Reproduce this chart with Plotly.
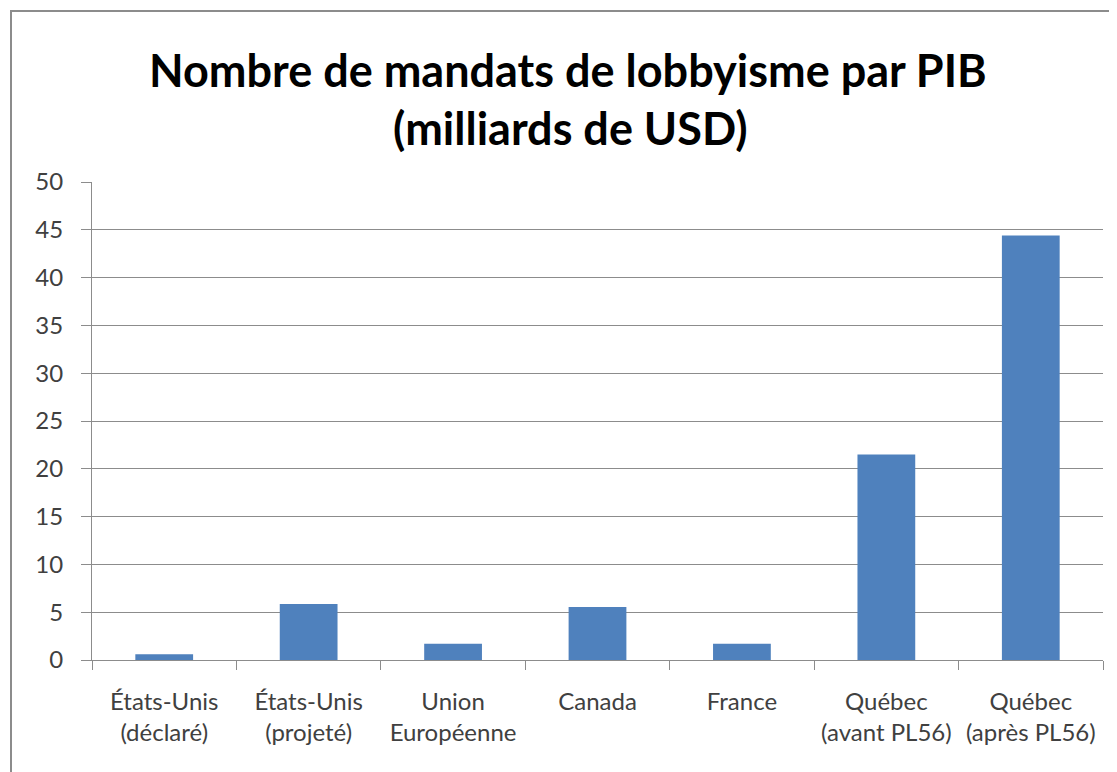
import plotly.graph_objects as go

categories = ["États-Unis<br>(déclaré)", "États-Unis<br>(projeté)", "Union<br>Européenne",
              "Canada", "France", "Québec<br>(avant PL56)", "Québec<br>(après PL56)"]
values = [0.6, 5.85, 1.7, 5.55, 1.7, 21.5, 44.4]
y_ticks = [0, 5, 10, 15, 20, 25, 30, 35, 40, 45, 50]
title_line1 = "Nombre de mandats de lobbyisme par PIB"
title_line2 = "(milliards de USD)"

# page has an 8px body margin; target screen positions
OFF = 8
SW, SH = 1117, 772
PX0, PX1, PY0, PY1 = 92, 1103, 182, 660  # plot area on screen
W, H = SW - OFF, SH - OFF
L, R, T, B = PX0 - OFF, SW - PX1, PY0 - OFF, SH - PY1
pw, ph = PX1 - PX0, PY1 - PY0

def px_x(p):
    return (p - PX0) / pw

def px_y(p):
    return (PY1 - p) / ph

fig = go.Figure(go.Bar(x=categories, y=values, marker=dict(color="#4F81BD", line=dict(width=0)),
                       width=0.4))

fig.update_layout(
    template="none",
    width=W, height=H,
    margin=dict(l=L, r=R, t=T, b=B, autoexpand=False),
    paper_bgcolor="white", plot_bgcolor="white",
    showlegend=False,
    font=dict(family="Lato", color="#404040"),
    xaxis=dict(
        type="category", tickson="boundaries", ticks="outside", ticklen=9, tickcolor="#8c8c8c",
        showline=True, linecolor="#8c8c8c", linewidth=1, showgrid=False, automargin=False,
        tickangle=0,
        tickfont=dict(family="Lato", size=24, color="#404040"),
        ticklabelstandoff=20,
    ),
    yaxis=dict(
        range=[0, 50], tickvals=y_ticks, ticks="outside", ticklen=10, tickcolor="#8c8c8c",
        showline=True, linecolor="#8c8c8c", linewidth=1, automargin=False,
        showgrid=True, gridcolor="#8c8c8c", gridwidth=1, zeroline=False,
        tickfont=dict(family="Lato", size=24, color="#404040"),
        ticklabelstandoff=13,
    ),
    annotations=[
        dict(text="<b>" + title_line1 + "</b>", xref="paper", yref="paper",
             x=px_x(568), y=px_y(70), xanchor="center", yanchor="middle", showarrow=False,
             font=dict(family="Lato", size=45, color="black")),
        dict(text="<b>" + title_line2 + "</b>", xref="paper", yref="paper",
             x=px_x(570), y=px_y(128), xanchor="center", yanchor="middle", showarrow=False,
             font=dict(family="Lato", size=45, color="black")),
    ],
    shapes=[
        dict(type="rect", xref="paper", yref="paper",
             x0=px_x(11), y0=px_y(SH + 20), x1=px_x(SW + 20), y1=px_y(11),
             line=dict(color="#8c8c8c", width=2), fillcolor="rgba(0,0,0,0)", layer="below"),
    ],
)

fig.write_html("out.html")
